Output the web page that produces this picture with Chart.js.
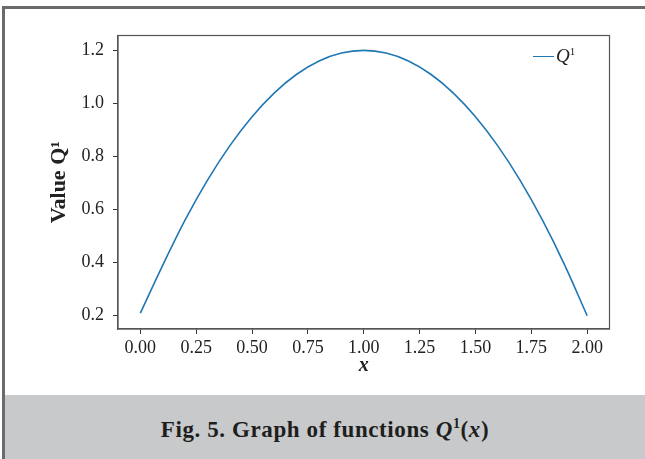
<!DOCTYPE html>
<html>
<head>
<meta charset="utf-8">
<script src="https://cdn.jsdelivr.net/npm/chart.js@4.4.1/dist/chart.umd.min.js"></script>
<style>
  html, body { margin: 0; padding: 0; background: #fff; }
  body { width: 645px; height: 459px; position: relative; overflow: hidden; font-family: "Liberation Serif", serif; }
  #chart { position: absolute; left: 0; top: 0; }
  #frame { position: absolute; left: 2px; top: 6px; right: 0; bottom: 0;
           border-left: 3px solid #6b6b6b; border-top: 3px solid #6b6b6b; pointer-events: none; }
  #caption { position: absolute; left: 5px; right: 0; top: 395px; bottom: 0; background: #c8c9cb;
             text-align: center; font-weight: bold; font-size: 23px; letter-spacing: 0.6px;
             line-height: 70px; color: #1e1e1e; }
  #legend { position: absolute; left: 533px; top: 45px; height: 24px; font-size: 19px; color: #222;
            white-space: nowrap; }
  #legend .swatch { display: inline-block; width: 21px; height: 0; border-top: 1.6px solid #1f77b4;
                    vertical-align: middle; margin-right: 2px; position: relative; top: -1px; }
  sup { font-size: 11px; font-style: normal; vertical-align: 7px; line-height: 0; }
</style>
</head>
<body>
<canvas id="chart" width="645" height="395"></canvas>
<div id="frame"></div>
<div id="legend"><span class="swatch"></span><i>Q</i><sup>1</sup></div>
<div id="caption">Fig. 5. Graph of functions <i>Q</i><sup style="font-size:14px;vertical-align:9px">1</sup>(<i>x</i>)</div>
<script>
// values
const xValues = [0.0, 0.1, 0.2, 0.3, 0.4, 0.5, 0.6, 0.7, 0.8, 0.9, 1.0,
                 1.1, 1.2, 1.3, 1.4, 1.5, 1.6, 1.7, 1.8, 1.9, 2.0];
const qValues = [0.21, 0.39, 0.56, 0.71, 0.84, 0.95, 1.04, 1.11, 1.16, 1.19, 1.20,
                 1.19, 1.16, 1.11, 1.04, 0.95, 0.84, 0.71, 0.56, 0.39, 0.20];
const xTicks = [0, 0.25, 0.5, 0.75, 1.0, 1.25, 1.5, 1.75, 2.0];
const yTicks = [0.2, 0.4, 0.6, 0.8, 1.0, 1.2];

const lineColor = "#1f77b4";
const axisColor = "#555";
const textColor = "#222";
const tickFont = { family: "Liberation Serif", size: 18 };

// matplotlib draws a full box round the axes
const boxPlugin = {
  id: "box",
  afterDraw(chart) {
    const { ctx, chartArea: a } = chart;
    ctx.save();
    ctx.strokeStyle = axisColor;
    ctx.lineWidth = 1.2;
    ctx.strokeRect(a.left, a.top, a.right - a.left, a.bottom - a.top);
    ctx.restore();
  }
};

new Chart(document.getElementById("chart"), {
  type: "line",
  data: {
    datasets: [{
      label: "Q¹",
      data: xValues.map((x, i) => ({ x: x, y: qValues[i] })),
      borderColor: lineColor,
      borderWidth: 1.6,
      pointRadius: 0,
      fill: false,
      cubicInterpolationMode: "monotone"
    }]
  },
  options: {
    responsive: false,
    animation: false,
    layout: { padding: { left: 0, right: 35.5, top: 35.5, bottom: 0 } },
    plugins: { legend: { display: false }, tooltip: { enabled: false } },
    scales: {
      x: {
        type: "linear",
        min: -0.1,
        max: 2.1,
        afterBuildTicks: s => { s.ticks = xTicks.map(v => ({ value: v })); },
        afterFit: s => { s.height = 66; },
        ticks: { callback: v => v.toFixed(2), font: tickFont, color: textColor, padding: 3, maxRotation: 0 },
        grid: { drawOnChartArea: false, tickLength: 5, color: "#333" },
        border: { color: axisColor, width: 1.2 },
        title: {
          display: true, text: "x", color: textColor,
          font: { family: "Liberation Serif", size: 20, weight: "bold", style: "italic" },
          padding: { top: 0, bottom: 17 }
        }
      },
      y: {
        type: "linear",
        min: 0.15,
        max: 1.256,
        afterBuildTicks: s => { s.ticks = yTicks.map(v => ({ value: v })); },
        afterFit: s => { s.width = 118; },
        ticks: { callback: v => v.toFixed(1), font: tickFont, color: textColor, padding: 9 },
        grid: { drawOnChartArea: false, tickLength: 5, color: "#333" },
        border: { color: axisColor, width: 1.2 },
        title: {
          display: true, text: "Value Q¹", color: textColor,
          font: { family: "Liberation Serif", size: 22, weight: "bold" },
          padding: { top: 46, bottom: 0 }
        }
      }
    }
  },
  plugins: [boxPlugin]
});
</script>
</body>
</html>
